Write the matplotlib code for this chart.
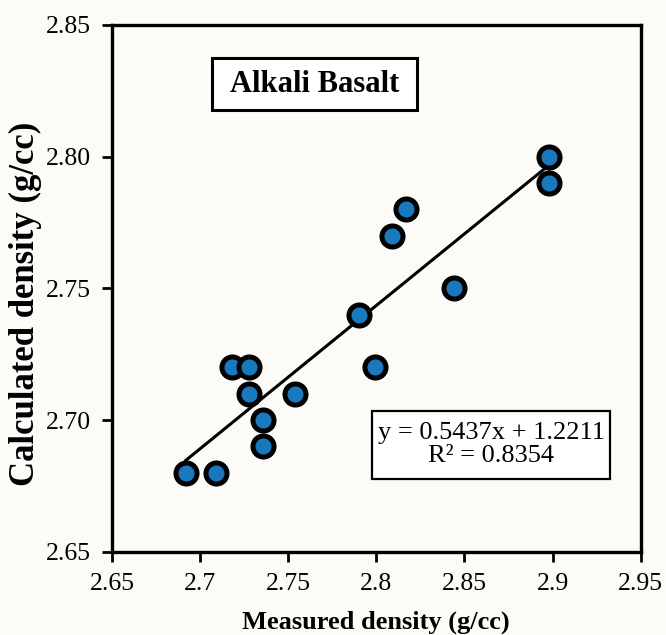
import numpy as np
import matplotlib
matplotlib.use("Agg")
import matplotlib.pyplot as plt
from matplotlib.patches import Rectangle
from matplotlib.ticker import FormatStrFormatter

# measured vs calculated densities (g/cc)
measured = [2.692, 2.709, 2.718, 2.728, 2.728, 2.736, 2.736, 2.754,
            2.799, 2.790, 2.809, 2.817, 2.844, 2.898, 2.898]
calculated = [2.68, 2.68, 2.72, 2.72, 2.71, 2.70, 2.69, 2.71,
              2.72, 2.74, 2.77, 2.78, 2.75, 2.80, 2.79]

slope, intercept, r2 = 0.5437, 1.2211, 0.8354

x_ticks = [2.65, 2.7, 2.75, 2.8, 2.85, 2.9, 2.95]
x_tick_labels = ["2.65", "2.7", "2.75", "2.8", "2.85", "2.9", "2.95"]
y_ticks = [2.65, 2.70, 2.75, 2.80, 2.85]

plt.rcParams['font.family'] = ['Liberation Serif', 'DejaVu Serif']
bg = '#fdfbf8'

fig = plt.figure(figsize=(6.66, 6.35), dpi=100, facecolor=bg)
ax = fig.add_axes([0.168, 0.131, 0.794, 0.830], facecolor=bg)

# trend line over the data range
xl = np.array([min(measured), max(measured)])
ax.plot(xl, slope * xl + intercept, color='black', lw=2.2, zorder=2)

ax.scatter(measured, calculated, s=230, color='#1a78bf', edgecolors='black',
           linewidths=3.6, zorder=3)

ax.set_xlim(2.65, 2.95)
ax.set_ylim(2.65, 2.85)
ax.set_xticks(x_ticks)
ax.set_xticklabels(x_tick_labels)
ax.set_yticks(y_ticks)
ax.yaxis.set_major_formatter(FormatStrFormatter('%.2f'))
ax.tick_params(direction='out', length=7, width=2, labelsize=18.5, pad=8,
               top=False, right=False)

for sp in ax.spines.values():
    sp.set_linewidth(2.4)

ax.set_xlabel("Measured density (g/cc)", fontsize=19, fontweight='bold')
ax.set_ylabel("Calculated density (g/cc)", fontsize=25, fontweight='bold')
ax.xaxis.set_label_coords(0.5, -0.112)
ax.yaxis.set_label_coords(-0.132, 0.47)

# title box
ax.add_patch(Rectangle((0.19, 0.839), 0.387, 0.097, transform=ax.transAxes,
                       fc='white', ec='black', lw=2.2, zorder=4))
ax.text(0.383, 0.887, "Alkali Basalt", transform=ax.transAxes, fontsize=22,
        fontweight='bold', ha='center', va='center', zorder=5)

# equation box
ax.add_patch(Rectangle((0.4925, 0.1385), 0.449, 0.129, transform=ax.transAxes,
                       fc='white', ec='black', lw=1.6, zorder=4))
ax.text(0.717, 0.203, f"y = {slope}x + {intercept}\nR\u00b2 = {r2}",
        transform=ax.transAxes, fontsize=19, ha='center', va='center',
        linespacing=1.05, multialignment='center', zorder=5)

fig.savefig("out.png", dpi=100, facecolor=bg)
